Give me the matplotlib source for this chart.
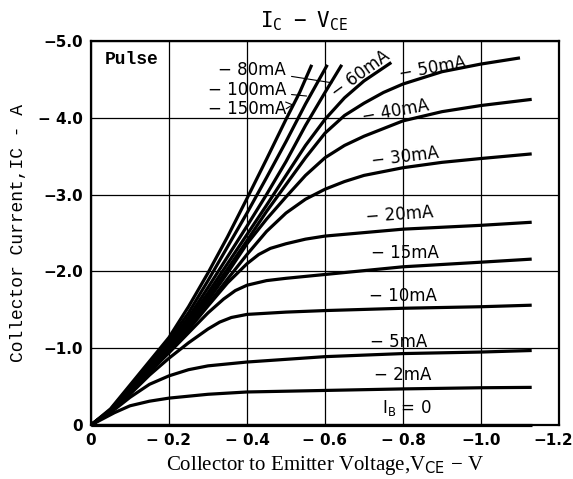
import matplotlib
matplotlib.use('Agg')
import matplotlib.pyplot as plt
import matplotlib.transforms as mtransforms
import numpy as np

# base current curves, IC vs VCE (magnitudes, plotted negative)
v_0 = [0, 1.13]
i_0 = [0, 0.0]

v_2 = [0, 0.03, 0.06, 0.1, 0.15, 0.2, 0.3, 0.4, 0.6, 0.8, 1.0, 1.13]
i_2 = [0, 0.08, 0.16, 0.25, 0.31, 0.35, 0.40, 0.43, 0.45, 0.47, 0.485, 0.49]

v_5 = [0, 0.05, 0.1, 0.15, 0.2, 0.25, 0.3, 0.4, 0.6, 0.8, 1.0, 1.13]
i_5 = [0, 0.16, 0.36, 0.53, 0.64, 0.72, 0.77, 0.82, 0.89, 0.93, 0.95, 0.97]

v_10 = [0, 0.05, 0.1, 0.15, 0.2, 0.25, 0.3, 0.33, 0.36, 0.4, 0.5, 0.6, 0.8, 1.0, 1.13]
i_10 = [0, 0.17, 0.40, 0.65, 0.87, 1.07, 1.25, 1.34, 1.40, 1.44, 1.47, 1.49, 1.52, 1.54, 1.56]

v_15 = [0, 0.05, 0.1, 0.15, 0.2, 0.25, 0.3, 0.34, 0.37, 0.4, 0.45, 0.5, 0.6, 0.8, 1.0, 1.13]
i_15 = [0, 0.18, 0.42, 0.69, 0.94, 1.20, 1.46, 1.64, 1.75, 1.82, 1.88, 1.91, 1.96, 2.06, 2.12, 2.16]

v_20 = [0, 0.05, 0.1, 0.15, 0.2, 0.25, 0.3, 0.35, 0.4, 0.43, 0.46, 0.5, 0.55, 0.6, 0.8, 1.0, 1.13]
i_20 = [0, 0.18, 0.43, 0.70, 0.96, 1.24, 1.55, 1.85, 2.10, 2.22, 2.30, 2.36, 2.42, 2.46, 2.55, 2.60, 2.64]

v_30 = [0, 0.05, 0.1, 0.15, 0.2, 0.25, 0.3, 0.35, 0.4, 0.45, 0.5, 0.55, 0.6, 0.65, 0.7, 0.8, 0.9, 1.0, 1.13]
i_30 = [0, 0.18, 0.44, 0.71, 0.97, 1.27, 1.57, 1.90, 2.22, 2.52, 2.76, 2.94, 3.07, 3.17, 3.25, 3.35, 3.42, 3.47, 3.53]

v_40 = [0, 0.05, 0.1, 0.15, 0.2, 0.25, 0.3, 0.35, 0.4, 0.45, 0.5, 0.55, 0.6, 0.65, 0.7, 0.8, 0.9, 1.0, 1.13]
i_40 = [0, 0.18, 0.45, 0.72, 0.99, 1.30, 1.62, 1.98, 2.36, 2.68, 2.97, 3.25, 3.48, 3.64, 3.76, 3.96, 4.08, 4.16, 4.24]

v_50 = [0, 0.05, 0.1, 0.15, 0.2, 0.25, 0.3, 0.35, 0.4, 0.45, 0.5, 0.55, 0.6, 0.65, 0.7, 0.75, 0.8, 0.9, 1.0, 1.1]
i_50 = [0, 0.19, 0.46, 0.73, 1.01, 1.33, 1.67, 2.03, 2.40, 2.78, 3.13, 3.48, 3.80, 4.03, 4.19, 4.33, 4.44, 4.60, 4.70, 4.78]

v_60 = [0, 0.05, 0.1, 0.15, 0.2, 0.25, 0.3, 0.35, 0.4, 0.45, 0.5, 0.55, 0.6, 0.65, 0.7, 0.77]
i_60 = [0, 0.19, 0.47, 0.75, 1.03, 1.36, 1.72, 2.10, 2.48, 2.86, 3.25, 3.64, 3.98, 4.26, 4.48, 4.72]

v_80 = [0, 0.05, 0.1, 0.15, 0.2, 0.25, 0.3, 0.35, 0.4, 0.45, 0.5, 0.55, 0.6, 0.643]
i_80 = [0, 0.19, 0.48, 0.77, 1.06, 1.40, 1.79, 2.19, 2.59, 3.00, 3.43, 3.90, 4.33, 4.69]

v_100 = [0, 0.05, 0.1, 0.15, 0.2, 0.25, 0.3, 0.35, 0.4, 0.45, 0.5, 0.55, 0.606]
i_100 = [0, 0.20, 0.50, 0.79, 1.10, 1.46, 1.88, 2.32, 2.76, 3.22, 3.69, 4.18, 4.69]

v_150 = [0, 0.05, 0.1, 0.15, 0.2, 0.25, 0.3, 0.35, 0.4, 0.45, 0.5, 0.535, 0.566]
i_150 = [0, 0.21, 0.52, 0.83, 1.14, 1.54, 1.98, 2.45, 2.95, 3.46, 3.98, 4.33, 4.69]

curves = [(v_0, i_0), (v_2, i_2), (v_5, i_5), (v_10, i_10), (v_15, i_15),
          (v_20, i_20), (v_30, i_30), (v_40, i_40), (v_50, i_50),
          (v_60, i_60), (v_80, i_80), (v_100, i_100), (v_150, i_150)]

x_ticks = [0, -0.2, -0.4, -0.6, -0.8, -1.0, -1.2]
x_labels = ['0', '\u2212 0.2', '\u2212 0.4', '\u2212 0.6', '\u2212 0.8', '\u22121.0', '\u22121.2']
y_ticks = [0, -1.0, -2.0, -3.0, -4.0, -5.0]
y_labels = ['0', '\u22121.0', '\u22122.0', '\u22123.0', '\u2212 4.0', '\u22125.0']

narrow = ['Liberation Sans Narrow', 'DejaVu Sans']
mono = ['Liberation Mono', 'DejaVu Sans Mono']

fig = plt.figure(figsize=(5.73, 4.79), dpi=100)
ax = fig.add_axes([91/573, 54/479, 468/573, 384/479])

for v, i in curves:
    ax.plot(-np.array(v), -np.array(i), color='black', lw=2.3,
            solid_capstyle='butt', solid_joinstyle='round', clip_on=False)

ax.set_xlim(0, -1.2)
ax.set_ylim(0, -5.0)
ax.set_xticks(x_ticks)
ax.set_xticklabels(x_labels, fontweight='bold', fontsize=11)
ax.set_yticks(y_ticks)
ax.set_yticklabels(y_labels, fontweight='bold', fontsize=11)
ax.tick_params(length=0, pad=6)
ax.grid(True, color='black', lw=0.9)
for s in ax.spines.values():
    s.set_linewidth(1.6)

# last x label sits partly past the frame, keep it inside the figure
last = ax.get_xticklabels()[-1]
last.set_horizontalalignment('right')
last.set_transform(last.get_transform() +
                   mtransforms.ScaledTranslation(14/100, 0, fig.dpi_scale_trans))

ax.set_xlabel('Collector to Emitter Voltage,V$_{\\rm CE}$ \u2212 V',
              family='Liberation Serif', fontsize=15, labelpad=4)
ax.set_ylabel('Collector Current,IC - A', family=mono, fontsize=13, labelpad=8)
fig.text(0.53, 0.955, '$\\mathtt{I_C\\ -\\ V_{CE}}$', fontsize=15,
         ha='center', va='center')

ax.text(-0.035, -4.76, 'Pulse', family=mono, fontsize=13, fontweight='bold',
        va='center')

# labels of the straight group with leader lines
ax.annotate('\u2212 80mA', xy=(-0.625, -4.45), xytext=(-0.5, -4.62),
            family=narrow, fontsize=12, ha='right', va='center',
            arrowprops=dict(arrowstyle='-', lw=0.8, color='black'))
ax.annotate('\u2212 100mA', xy=(-0.56, -4.28), xytext=(-0.5, -4.36),
            family=narrow, fontsize=12, ha='right', va='center',
            arrowprops=dict(arrowstyle='-', lw=0.8, color='black'))
ax.annotate('\u2212 150mA', xy=(-0.52, -4.17), xytext=(-0.5, -4.12),
            family=narrow, fontsize=12, ha='right', va='center',
            arrowprops=dict(arrowstyle='->', lw=0.8, color='black'))

ax.text(-0.69, -4.57, '\u2212 60mA', family=narrow, fontsize=12,
        rotation=36, ha='center', va='center')
ax.text(-0.875, -4.65, '\u2212 50mA', family=narrow, fontsize=12,
        rotation=10, ha='center', va='center')
ax.text(-0.78, -4.08, '\u2212 40mA', family=narrow, fontsize=12,
        rotation=10, ha='center', va='center')
ax.text(-0.805, -3.49, '\u2212 30mA', family=narrow, fontsize=12,
        rotation=7, ha='center', va='center')
ax.text(-0.79, -2.74, '\u2212 20mA', family=narrow, fontsize=12,
        rotation=4, ha='center', va='center')
ax.text(-0.805, -2.24, '\u2212 15mA', family=narrow, fontsize=12,
        ha='center', va='center')
ax.text(-0.80, -1.68, '\u2212 10mA', family=narrow, fontsize=12,
        ha='center', va='center')
ax.text(-0.79, -1.08, '\u2212 5mA', family=narrow, fontsize=12,
        ha='center', va='center')
ax.text(-0.80, -0.65, '\u2212 2mA', family=narrow, fontsize=12,
        ha='center', va='center')
ax.text(-0.81, -0.22, 'I$_{\\rm B}$ = 0', family=narrow, fontsize=12,
        ha='center', va='center')

fig.savefig('out.png', dpi=100)
